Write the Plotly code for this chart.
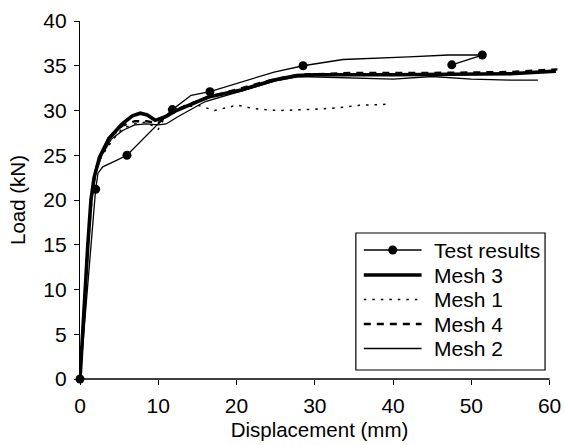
import plotly.graph_objects as go

# Load–displacement data (displacement in mm, load in kN)
test_x = [0, 2.0, 2.3, 2.9, 4.6, 6.0, 11.8, 14.2, 16.6, 20.6, 24.8, 28.5, 33.6, 42.0, 47.1, 51.4, 47.5]
test_y = [0, 21.2, 23.0, 23.7, 24.4, 25.0, 30.1, 31.7, 32.1, 33.2, 34.3, 35.0, 35.7, 36.0, 36.2, 36.2, 35.1]
test_marker_idx = [0, 1, 5, 6, 8, 11, 15, 16]

mesh3_x = [0, 0.5, 1.0, 1.4, 1.8, 2.5, 3.7, 5.4, 6.7, 7.7, 8.6, 9.6, 10.9, 12.3, 16.4, 20.6, 24.8, 27.7, 30, 40, 50, 55, 60.8]
mesh3_y = [0, 8.0, 15.0, 20.0, 22.5, 24.8, 26.9, 28.5, 29.4, 29.7, 29.5, 28.9, 29.3, 30.0, 31.5, 32.3, 33.4, 33.9, 34.0, 34.0, 34.0, 34.1, 34.4]

mesh1_x = [0, 0.5, 1.0, 1.5, 2.1, 2.7, 4.0, 5.4, 7.0, 8.5, 10.0, 11.0, 12.5, 15.0, 17.2, 20.1, 22.2, 25.2, 29.0, 33.0, 36.0, 39.5]
mesh1_y = [0, 8.0, 15.0, 20.5, 23.5, 24.8, 26.5, 28.0, 28.5, 28.7, 27.9, 29.5, 30.2, 30.6, 30.0, 30.6, 30.2, 30.0, 30.1, 30.3, 30.6, 30.7]

mesh4_x = [0, 0.5, 1.0, 1.5, 2.0, 2.5, 3.7, 5.4, 7.0, 8.5, 10.0, 11.3, 13.6, 16.5, 20.6, 24.8, 28.0, 35, 45, 55, 61.0]
mesh4_y = [0, 8.0, 15.0, 20.5, 23.3, 24.8, 26.8, 28.3, 28.8, 28.8, 28.6, 29.6, 30.6, 31.5, 32.5, 33.5, 34.0, 34.2, 34.2, 34.3, 34.6]

mesh2_x = [0, 0.5, 1.0, 1.5, 2.0, 2.8, 4.0, 5.5, 7.0, 8.5, 10.0, 11.0, 12.5, 16.0, 20.0, 25.0, 28.0, 35, 40, 45, 50, 55, 58.5]
mesh2_y = [0, 8.0, 15.0, 20.5, 23.0, 25.0, 26.8, 27.8, 28.4, 28.5, 28.4, 28.5, 29.3, 31.0, 32.0, 33.3, 33.8, 33.6, 33.5, 33.8, 33.5, 33.4, 33.4]

x_ticks = [0, 10, 20, 30, 40, 50, 60]
y_ticks = [0, 5, 10, 15, 20, 25, 30, 35, 40]

legend_names = ["Test results", "Mesh 3", "Mesh 1", "Mesh 4", "Mesh 2"]

FONT = "Liberation Sans, Arial, sans-serif"
BLACK = "#000000"
FS = 21          # tick labels and legend
FS_TITLE = 20.5  # axis titles

# figure / plot-area geometry in pixels; the x range runs a little past the
# last tick so curves can overshoot the end of the drawn axis line
W, H = 564, 445
ML, MR, MT, MB = 80, 3, 21, 66
PW, PH = W - ML - MR, H - MT - MB
X_MAX = 61.2


def px(xp):
    """pixel column -> paper x"""
    return (xp - ML) / PW


def py(yp):
    """pixel row -> paper y"""
    return (H - MB - yp) / PH


styles = {
    "Test results": dict(color=BLACK, width=1.3),
    "Mesh 3": dict(color=BLACK, width=3.6),
    "Mesh 1": dict(color=BLACK, width=1.5, dash="2.5px,6px"),
    "Mesh 4": dict(color=BLACK, width=2.4, dash="7px,6px"),
    "Mesh 2": dict(color=BLACK, width=1.3),
}

fig = go.Figure()

# Test results: continuous curve plus markers on the measured points
fig.add_trace(go.Scatter(x=test_x, y=test_y, mode="lines", name="Test results",
                         line=styles["Test results"], showlegend=False))
fig.add_trace(go.Scatter(x=[test_x[i] for i in test_marker_idx],
                         y=[test_y[i] for i in test_marker_idx],
                         mode="markers", name="Test results",
                         marker=dict(color=BLACK, size=9),
                         showlegend=False, cliponaxis=False))

for name, xs, ys in [("Mesh 3", mesh3_x, mesh3_y), ("Mesh 1", mesh1_x, mesh1_y),
                     ("Mesh 4", mesh4_x, mesh4_y), ("Mesh 2", mesh2_x, mesh2_y)]:
    fig.add_trace(go.Scatter(x=xs, y=ys, mode="lines", name=name,
                             line=styles[name], showlegend=False))

# x axis line stops at the last tick
shapes = [dict(type="line", xref="x", yref="paper", x0=0, x1=x_ticks[-1], y0=0, y1=0,
               line=dict(color=BLACK, width=1.3), layer="above")]

# Boxed legend with long line samples
shapes.append(dict(type="rect", xref="paper", yref="paper",
                   x0=px(357), x1=px(547), y0=py(370), y1=py(233),
                   line=dict(color=BLACK, width=1.2), fillcolor="white", layer="above"))
annotations = []
row_y = [250, 275, 299.5, 324, 348.5]
for name, yr in zip(legend_names, row_y):
    st = styles[name]
    shapes.append(dict(type="line", xref="paper", yref="paper",
                       x0=px(365), x1=px(423), y0=py(yr), y1=py(yr),
                       line=dict(color=st["color"], width=st["width"], dash=st.get("dash", "solid")),
                       layer="above"))
    if name == "Test results":
        shapes.append(dict(type="circle", xref="paper", yref="paper",
                           x0=px(394 - 4.5), x1=px(394 + 4.5), y0=py(yr + 4.5), y1=py(yr - 4.5),
                           line=dict(color=BLACK, width=0), fillcolor=BLACK, layer="above"))
    annotations.append(dict(text=name, xref="paper", yref="paper", x=px(433), y=py(yr),
                            xanchor="left", yanchor="middle", showarrow=False,
                            font=dict(family=FONT, size=FS, color=BLACK)))

tick_common = dict(ticks="outside", ticklen=5, tickwidth=1.3, tickcolor=BLACK,
                   tickfont=dict(family=FONT, size=FS, color=BLACK),
                   showgrid=False, zeroline=False)

fig.update_layout(
    width=W, height=H,
    margin=dict(l=ML, r=MR, t=MT, b=MB),
    paper_bgcolor="white", plot_bgcolor="white",
    font=dict(family=FONT, size=FS, color=BLACK),
    showlegend=False,
    xaxis=dict(range=[0, X_MAX], tickvals=x_ticks, ticklabelstandoff=3, showline=False,
               title=dict(text="Displacement (mm)", font=dict(size=FS_TITLE), standoff=6),
               **tick_common),
    yaxis=dict(range=[0, 40], tickvals=y_ticks, ticklabelstandoff=3,
               showline=True, linecolor=BLACK, linewidth=1.3,
               title=dict(text="Load (kN)", font=dict(size=FS_TITLE), standoff=12),
               **tick_common),
    shapes=shapes,
    annotations=annotations,
)

fig.write_html("out.html")
